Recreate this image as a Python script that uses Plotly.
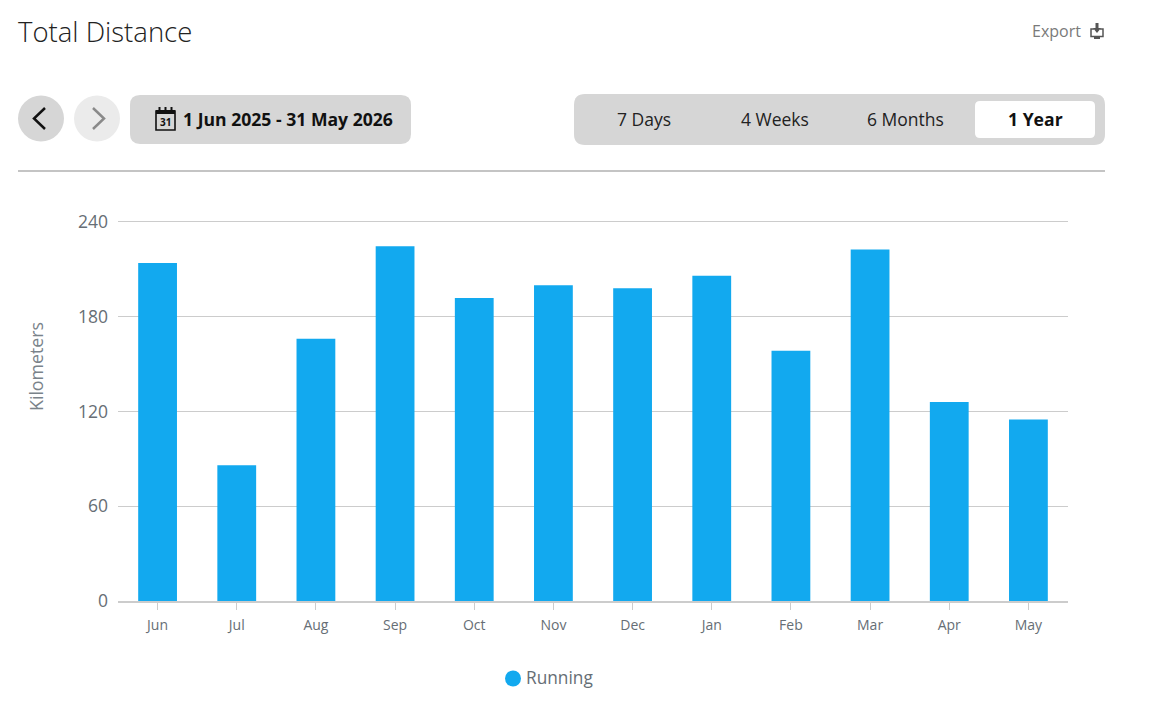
import plotly.graph_objects as go

# page body has an 8px margin, so the figure is 16px smaller than the window
W = 1136
H = 688
OFFSET = 8

months = ["Jun", "Jul", "Aug", "Sep", "Oct", "Nov", "Dec", "Jan", "Feb", "Mar", "Apr", "May"]
distance = [214, 86, 166, 224.6, 191.8, 200, 198, 206, 158.5, 222.5, 126, 115]
y_ticks = [0, 60, 120, 180, 240]
ranges = ["7 Days", "4 Weeks", "6 Months"]
range_x = [644, 774.5, 905]
FONT = "Open Sans"
BLUE = "#12a9ef"
GRID = "#cccccc"


def fx(x):
    return (x - OFFSET) / W


def fy(y):
    return 1 - (y - OFFSET) / H


def path_px(points, close=False):
    # pixel points -> svg path in paper coords
    s = "M" + " L".join(f"{fx(x):.5f},{fy(y):.5f}" for x, y in points)
    return s + (" Z" if close else "")


def round_rect(x0, y0, x1, y1, r, fill):
    rx = r / W
    ry = r / H
    a, b, c, d = fx(x0), fx(x1), fy(y0), fy(y1)
    p = (f"M{a+rx:.5f},{c:.5f} L{b-rx:.5f},{c:.5f} Q{b:.5f},{c:.5f} {b:.5f},{c-ry:.5f} "
         f"L{b:.5f},{d+ry:.5f} Q{b:.5f},{d:.5f} {b-rx:.5f},{d:.5f} "
         f"L{a+rx:.5f},{d:.5f} Q{a:.5f},{d:.5f} {a:.5f},{d+ry:.5f} "
         f"L{a:.5f},{c-ry:.5f} Q{a:.5f},{c:.5f} {a+rx:.5f},{c:.5f} Z")
    return dict(type="path", xref="paper", yref="paper", path=p, fillcolor=fill, line=dict(width=0), layer="below")


def circle(cx, cy, r, fill):
    return dict(type="circle", xref="paper", yref="paper", x0=fx(cx - r), x1=fx(cx + r), y0=fy(cy + r), y1=fy(cy - r),
                fillcolor=fill, line=dict(width=0), layer="below")


def line_path(points, color, width, close=False):
    return dict(type="path", xref="paper", yref="paper", path=path_px(points, close), line=dict(color=color, width=width))


def fill_path(points, color):
    return dict(type="path", xref="paper", yref="paper", path=path_px(points, True), fillcolor=color, line=dict(width=0))


def label(text, x, y, size, color, weight=400, anchor="left", angle=0):
    return dict(text=text, x=fx(x), y=fy(y), xref="paper", yref="paper", showarrow=False, xanchor=anchor, yanchor="middle",
                textangle=angle, font=dict(family=FONT, size=size, color=color, weight=weight))


fig = go.Figure()
fig.add_trace(go.Bar(x=months, y=distance, name="Running", marker=dict(color=BLUE, line=dict(width=0)), width=0.49,
                     showlegend=False))

shapes = [
    circle(41, 118.5, 23, "#d6d6d6"),
    circle(97, 118.5, 23, "#ebebeb"),
    round_rect(130, 95, 411, 144, 10, "#d6d6d6"),
    round_rect(574, 94, 1105, 145, 11, "#d6d6d6"),
    round_rect(975, 101, 1095, 138, 5, "#ffffff"),
    line_path([(18, 171), (1105, 171)], "#c4c4c4", 2),
    line_path([(45, 108), (34, 118.5), (45, 129)], "#111111", 2.5),
    line_path([(93, 108), (104, 118.5), (93, 129)], "#8a8a8a", 2.5),
    # calendar icon
    line_path([(156, 111), (175, 111), (175, 130), (156, 130)], "#111111", 1.6, close=True),
    fill_path([(156, 110), (175, 110), (175, 114), (156, 114)], "#111111"),
    line_path([(159.5, 107), (159.5, 111)], "#111111", 2),
    line_path([(165.5, 107), (165.5, 111)], "#111111", 2),
    line_path([(171.5, 107), (171.5, 111)], "#111111", 2),
    # export icon
    line_path([(1094, 29), (1091, 29), (1091, 36.5), (1103, 36.5), (1103, 29), (1100, 29)], "#555555", 1.5),
    fill_path([(1095.5, 23), (1098.5, 23), (1098.5, 28), (1101, 28), (1097, 33), (1093, 28), (1095.5, 28)], "#555555"),
    fill_path([(1094, 37), (1100, 37), (1100, 39), (1094, 39)], "#555555"),
    # legend dot
    circle(513, 678.5, 8, BLUE),
]

annotations = [
    label("Total Distance", 16, 32, 27.5, "#222222", weight=300),
    label("Export", 1030, 31, 16, "#7a7a7a"),
    label("31", 165.5, 121.5, 10, "#111111", weight=700, anchor="center"),
    label("1 Jun 2025 - 31 May 2026", 181, 118.5, 17.6, "#111111", weight=700),
    label("1 Year", 1035, 118.5, 17.6, "#111111", weight=700, anchor="center"),
    label("Running", 524, 677, 17.3, "#666e75"),
    label("Kilometers", 36, 366, 17.8, "#7a838a", angle=-90, anchor="center"),
]
for name, x in zip(ranges, range_x):
    annotations.append(label(name, x, 118.5, 17.5, "#222222", anchor="center"))

fig.update_layout(
    width=W,
    height=H,
    margin=dict(l=0, r=0, t=0, b=0, autoexpand=False),
    paper_bgcolor="white",
    plot_bgcolor="white",
    bargap=0.5,
    font=dict(family=FONT),
    showlegend=False,
    shapes=shapes,
    annotations=annotations,
    xaxis=dict(domain=[fx(118), fx(1068)], type="category", categoryorder="array", categoryarray=months,
               showline=True, linecolor=GRID, linewidth=1.5, ticks="outside", ticklen=7, tickcolor=GRID, tickwidth=1,
               tickfont=dict(family=FONT, size=14, color="#666e75"), ticklabelstandoff=3, showgrid=False,
               fixedrange=True, automargin=False),
    # range goes past 240 so the top gridline is not clipped at the plot edge
    yaxis=dict(domain=[fy(601), fy(220.4)], range=[0, 241], tickvals=y_ticks, gridcolor=GRID, gridwidth=1, zeroline=False,
               ticks="", tickfont=dict(family=FONT, size=17.5, color="#666e75"), ticklabelstandoff=9,
               fixedrange=True, automargin=False),
)

fig.write_html("out.html", config=dict(displayModeBar=False))
